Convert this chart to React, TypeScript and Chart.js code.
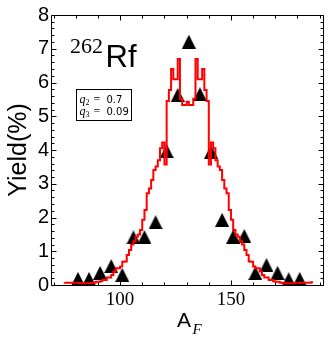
import React, { useEffect, useRef } from 'react';
import { Chart, registerables } from 'chart.js';

Chart.register(...registerables);

// Calculated fragment yield (step histogram), mass numbers starting at calcStartA
const calcStartA = 75;
const calcYield = [
  0.08, 0.07, 0.07, 0.07, 0.07, 0.07, 0.06, 0.06, 0.05, 0.05,
  0.05, 0.05, 0.05, 0.06, 0.07, 0.1, 0.1, 0.11, 0.15, 0.15,
  0.22, 0.22, 0.3, 0.4, 0.5, 0.5, 0.55, 0.69, 0.7, 0.89,
  1.04, 1.2, 1.3, 1.43, 1.5, 1.63, 1.93, 2.22, 2.72, 2.86,
  3.11, 3.41, 3.51, 3.7, 4.05, 4.22, 3.57, 5.45, 5.78, 6.4,
  6.1, 6.1, 6.7, 5.52, 5.33, 5.33, 5.43, 5.33, 5.33, 5.52,
  6.7, 6.1, 6.1, 6.4, 5.78, 5.45, 3.57, 4.22, 4.05, 3.7,
  3.51, 3.41, 3.11, 2.86, 2.72, 2.22, 1.93, 1.63, 1.5, 1.43,
  1.3, 1.2, 1.04, 0.89, 0.7, 0.69, 0.55, 0.5, 0.5, 0.4,
  0.3, 0.22, 0.22, 0.15, 0.15, 0.11, 0.1, 0.1, 0.07, 0.06,
  0.05, 0.05, 0.05, 0.05, 0.05, 0.06, 0.06, 0.07, 0.07, 0.07,
  0.07, 0.07, 0.08,
];

// Experimental yields (triangles)
const expA = [81, 86, 91, 96, 101, 106, 111, 116, 121, 126, 131, 136, 141, 146, 151, 156, 161, 166, 171, 176, 181];
const expYield = [0.18, 0.18, 0.36, 0.56, 0.3, 1.41, 1.42, 1.86, 3.97, 5.63, 7.21, 5.65, 3.95, 1.93, 1.43, 1.45, 0.35, 0.59, 0.36, 0.17, 0.18];

// Axis ticks
const xTickValues = [70, 80, 90, 100, 110, 120, 130, 140, 150, 160, 170, 180, 190];
const xTickLabels = [100, 150];
const yTickValues = [0, 1, 2, 3, 4, 5, 6, 7, 8];
const yMinorStep = 0.2;

const X_MIN = 69.3;
const X_MAX = 191.5;

function makeTriangle(size: number): HTMLCanvasElement {
  const c = document.createElement('canvas');
  c.width = size;
  c.height = size;
  const g = c.getContext('2d')!;
  g.fillStyle = '#000';
  g.beginPath();
  g.moveTo(size / 2, 0);
  g.lineTo(size, size);
  g.lineTo(0, size);
  g.closePath();
  g.fill();
  return c;
}

const frameTicksPlugin = {
  id: 'frameTicks',
  afterDatasetsDraw(chart: any) {
    const { ctx, chartArea, scales } = chart;
    const { left, right, top, bottom } = chartArea;
    const x = scales.x;
    const y = scales.y;
    ctx.save();
    ctx.strokeStyle = '#000';
    ctx.lineWidth = 1;
    ctx.beginPath();
    const L = Math.floor(left) - 0.5;
    const R = Math.floor(right) + 0.5;
    const T = Math.floor(top) + 0.5;
    const B = Math.floor(bottom) + 0.5;
    ctx.rect(L, T, R - L, B - T);
    for (const v of xTickValues) {
      const px = Math.round(x.getPixelForValue(v)) + 0.5;
      const len = xTickLabels.includes(v) ? 5 : 3;
      ctx.moveTo(px, B);
      ctx.lineTo(px, B - len);
      ctx.moveTo(px, T);
      ctx.lineTo(px, T + len);
    }
    const n = Math.round(8 / yMinorStep);
    for (let i = 0; i <= n; i++) {
      const v = i * yMinorStep;
      const py = Math.round(y.getPixelForValue(v)) + 0.5;
      const major = yTickValues.some((t) => Math.abs(t - v) < 1e-6);
      const len = major ? 5 : 3;
      ctx.moveTo(L, py);
      ctx.lineTo(L + len, py);
      ctx.moveTo(R, py);
      ctx.lineTo(R - len, py);
    }
    ctx.stroke();
    ctx.restore();
  },
};

const annotationPlugin = {
  id: 'annotations',
  afterDraw(chart: any) {
    const { ctx } = chart;
    ctx.save();
    ctx.fillStyle = '#000';
    ctx.textBaseline = 'alphabetic';
    ctx.textAlign = 'left';
    // 262Rf
    ctx.font = '22px "Liberation Serif"';
    ctx.fillText('262', 70, 53);
    ctx.font = '31px "Liberation Sans"';
    ctx.fillText('Rf', 105.5, 66.5);

    // parameter box
    ctx.strokeStyle = '#000';
    ctx.lineWidth = 1;
    ctx.strokeRect(76.5, 89.5, 55, 31);
    const lines = [
      { sub: '2', val: '0.7', base: 103 },
      { sub: '3', val: '0.09', base: 114.5 },
    ];
    for (const ln of lines) {
      ctx.font = 'italic 12px "Liberation Serif"';
      ctx.fillText('q', 79.5, ln.base);
      ctx.font = '8px "Liberation Serif"';
      ctx.fillText(ln.sub, 85.5, ln.base + 2);
      ctx.font = '12px "Liberation Serif"';
      ctx.fillText('=', 93.5, ln.base);
      ctx.font = '10px "DejaVu Sans"';
      ctx.fillText(ln.val, 106.5, ln.base);
    }

    // x-axis title A_F
    ctx.font = '21px "Liberation Sans"';
    ctx.fillText('A', 177, 327);
    ctx.font = 'italic 15px "Liberation Serif"';
    ctx.fillText('F', 192.5, 333.5);
    ctx.restore();
  },
};

export default function App() {
  const canvasRef = useRef<HTMLCanvasElement | null>(null);

  useEffect(() => {
    const canvas = canvasRef.current;
    if (!canvas) return;
    const tri = makeTriangle(14);
    const calcData = calcYield.map((v, i) => ({ x: calcStartA + i, y: v }));
    const expData = expA.map((a, i) => ({ x: a, y: expYield[i] }));

    const chart = new Chart(canvas, {
      type: 'line',
      data: {
        datasets: [
          {
            label: 'calc',
            data: calcData,
            borderColor: '#ff0000',
            borderWidth: 2,
            pointRadius: 0,
            stepped: 'after',
            fill: false,
            tension: 0,
          } as any,
          {
            label: 'exp',
            data: expData,
            showLine: false,
            pointStyle: tri as any,
            pointRadius: 7,
            backgroundColor: '#000',
            borderColor: '#000',
          } as any,
        ],
      },
      options: {
        animation: false,
        responsive: false,
        devicePixelRatio: 1,
        events: [],
        layout: { padding: { top: 15, right: 5, left: 0, bottom: 0 } },
        plugins: {
          legend: { display: false },
          tooltip: { enabled: false },
        },
        scales: {
          x: {
            type: 'linear',
            min: X_MIN,
            max: X_MAX,
            afterBuildTicks: (scale: any) => {
              scale.ticks = xTickValues.map((v) => ({ value: v }));
            },
            afterFit: (scale: any) => {
              scale.height = 58;
            },
            grid: { display: false, drawTicks: false },
            border: { display: false },
            ticks: {
              autoSkip: false,
              maxRotation: 0,
              padding: 4,
              color: '#000',
              font: { family: 'Liberation Serif', size: 19 },
              callback: (v: any) => (xTickLabels.includes(Number(v)) ? String(v) : ''),
            },
          },
          y: {
            type: 'linear',
            min: 0,
            max: 8,
            afterBuildTicks: (scale: any) => {
              scale.ticks = yTickValues.map((v) => ({ value: v }));
            },
            afterFit: (scale: any) => {
              scale.width = 52;
            },
            grid: { display: false, drawTicks: false },
            border: { display: false },
            ticks: {
              padding: 3,
              color: '#000',
              font: { family: 'Liberation Sans', size: 20 },
            },
            title: {
              display: true,
              text: 'Yield(%)',
              color: '#000',
              font: { family: 'Liberation Sans', size: 25 },
              padding: { top: 4, bottom: 0 },
            },
          },
        },
      },
      plugins: [frameTicksPlugin, annotationPlugin],
    });

    return () => chart.destroy();
  }, []);

  return (
    <div style={{ position: 'absolute', left: 0, top: 0, width: 331, height: 343, background: '#fff' }}>
      <canvas ref={canvasRef} width={331} height={343} style={{ display: 'block' }} />
    </div>
  );
}
